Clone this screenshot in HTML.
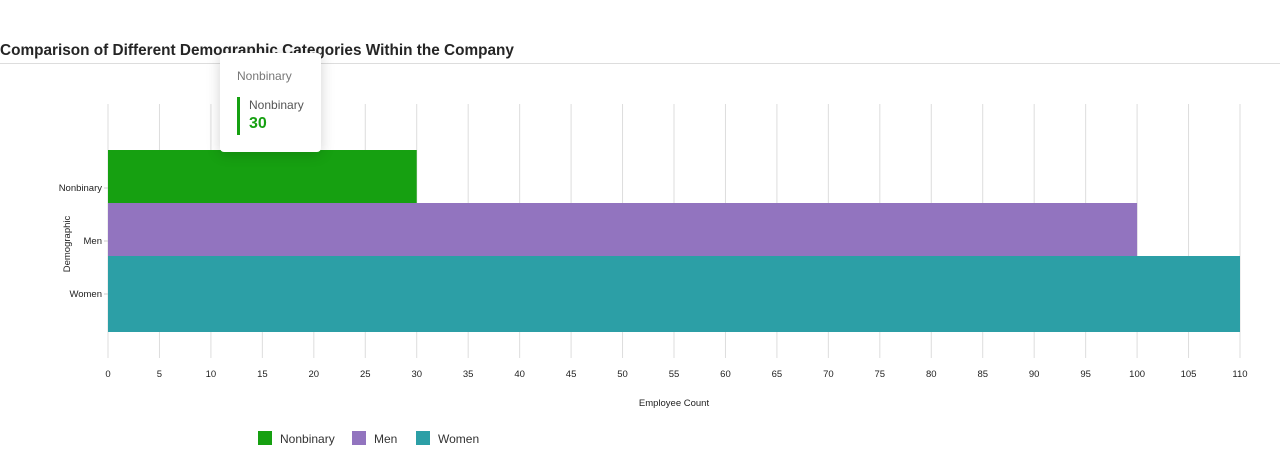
<!DOCTYPE html>
<html><head><meta charset="utf-8"><style>
body{margin:0;width:1280px;height:454px;background:#fff;font-family:"Segoe UI","Liberation Sans",sans-serif;overflow:hidden;position:relative}
#title{position:absolute;left:0;top:42px;font-size:15.35px;font-weight:600;color:#252525}
#rule{position:absolute;left:0;top:63px;width:1280px;height:1px;background:#ddd}
#tip{position:absolute;left:220px;top:53px;width:101px;height:99px;background:#fff;border-radius:4px;box-shadow:0 2px 14px rgba(0,0,0,0.18)}
</style></head><body>
<div id="title">Comparison of Different Demographic Categories Within the Company</div>
<div id="rule"></div>
<svg id="chart" width="1280" height="454" style="position:absolute;left:0;top:0"></svg>
<div id="tip">
<div style="position:absolute;left:17px;top:16px;font-size:12px;color:#777">Nonbinary</div>
<div style="position:absolute;left:17px;top:44px;width:3px;height:38px;background:#16a011"></div>
<div style="position:absolute;left:29px;top:45px;font-size:12px;color:#555">Nonbinary</div>
<div style="position:absolute;left:29px;top:62px;font-size:16px;font-weight:700;color:#16a011">30</div>
</div>
<script>
const categories=["Nonbinary","Men","Women"];
const values=[30,100,110];
const colors=["#16a011","#9274bf","#2c9fa6"];
const ticks=[0,5,10,15,20,25,30,35,40,45,50,55,60,65,70,75,80,85,90,95,100,105,110];
const NS="http://www.w3.org/2000/svg";
const svg=document.getElementById('chart');
const x0=108,x1=1240,plotTop=104,plotBot=358;
const xs=v=>x0+(v/110)*(x1-x0);
const yc=i=>188+i*53;
function mk(t,a){const e=document.createElementNS(NS,t);for(const k in a)e.setAttribute(k,a[k]);svg.appendChild(e);return e;}
ticks.forEach(t=>{
const g=mk('line',{x1:xs(t),x2:xs(t),y1:plotTop,y2:plotBot,stroke:'#ddd','stroke-width':1});


const l=mk('text',{x:xs(t),y:377,'text-anchor':'middle','font-size':9.5,fill:'#222','font-family':'Segoe UI, Liberation Sans, sans-serif'});
l.textContent=t;


});
categories.forEach((c,i)=>{
const y0=yc(i)-38;
const y1=i<categories.length-1?yc(i+1)-38:yc(i)+38;
const r=mk('rect',{x:x0,y:y0,width:xs(values[i])-x0,height:y1-y0,fill:colors[i]});


mk('line',{x1:x0-4,x2:x0,y1:yc(i),y2:yc(i),stroke:'#ccc'});
const l=mk('text',{x:x0-6,y:yc(i)+3,'text-anchor':'end','font-size':9.5,fill:'#222','font-family':'Segoe UI, Liberation Sans, sans-serif'});
l.textContent=c;


});
const xt=mk('text',{x:674,y:406,'text-anchor':'middle','font-size':9.5,fill:'#222','font-family':'Segoe UI, Liberation Sans, sans-serif'});
xt.textContent='Employee Count';


const yt=mk('text',{x:0,y:0,'text-anchor':'middle','font-size':9.5,fill:'#222',transform:'translate(70,244) rotate(-90)','font-family':'Segoe UI, Liberation Sans, sans-serif'});
yt.textContent='Demographic';


const lx=[258,352,416];
categories.forEach((c,i)=>{
const r=mk('rect',{x:lx[i],y:431,width:14,height:14,fill:colors[i]});


const t=mk('text',{x:lx[i]+22,y:443,'font-size':12,fill:'#333','font-family':'Segoe UI, Liberation Sans, sans-serif'});
t.textContent=c;


});
</script>
</body></html>
